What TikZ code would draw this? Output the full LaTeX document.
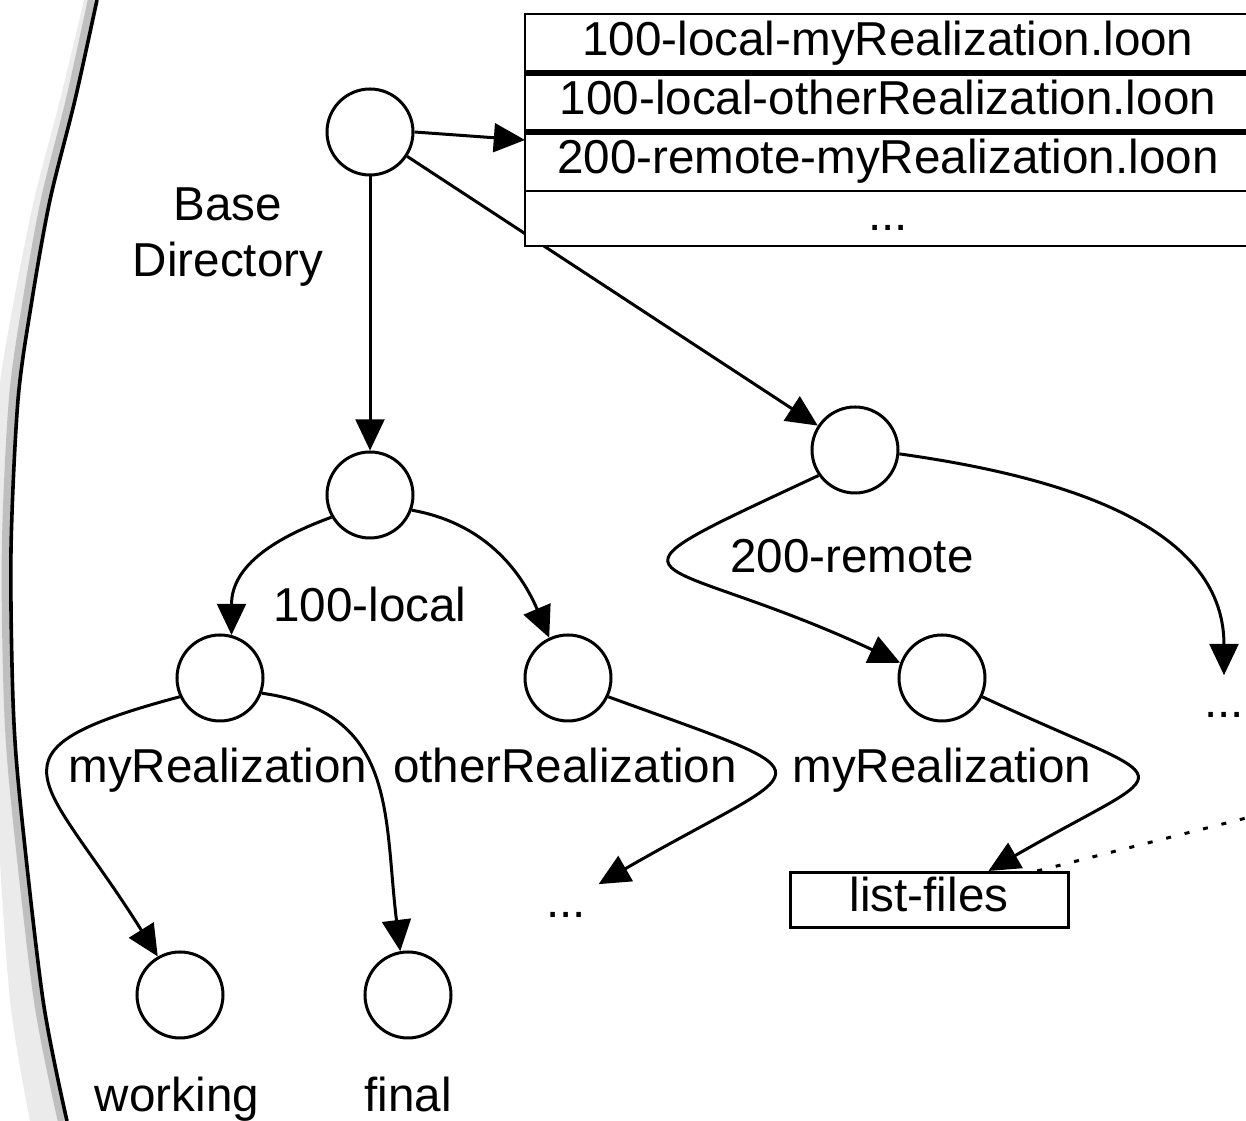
\documentclass[tikz,border=0pt]{standalone}
\usepackage{fontspec}
\setmainfont{Liberation Sans}
\usetikzlibrary{arrows.meta,positioning}

\begin{document}
\begin{tikzpicture}[
  x=0.25pt, y=-0.25pt,
  font=\fontsize{11.9}{13.8}\selectfont,
  dir/.style={circle,draw,line width=0.75pt,minimum size=21.5pt,inner sep=0pt},
  lbl/.style={inner sep=0pt,anchor=base},
  more/.style={inner sep=3pt,text height=0.75em,text depth=0pt},
  row/.style={draw,fill=white,line width=0.7pt,outer sep=0pt,minimum width=181.5pt,minimum height=14.75pt,inner sep=0pt,text height=8.9pt,text depth=2.9pt},
  file/.style={draw,line width=0.75pt,minimum width=69.5pt,minimum height=13.75pt,inner sep=0pt,text height=8.9pt,text depth=2.9pt},
  sep/.style={line width=1.6pt},
  ar/.style={-{Triangle[length=7.8pt,width=7.2pt]},line width=0.75pt},
  link/.style={line width=0.75pt,dash pattern=on 1.25pt off 3.5pt}
]
\useasboundingbox (0,0) rectangle (1246,1121);

\fill[gray!16] plot[smooth] coordinates {(97,0) (75,100) (50,200) (32,300) (18,400) (11,550) (13,700) (20,800) (43,1000) (67,1121)}
  -- plot[smooth] coordinates {(30,1121) (10,1000) (-4,800) (-10,700) (-10,550) (-2,400) (14,300) (34,200) (60,100) (84,0)} -- cycle;
\draw[gray!50,line width=2pt,xshift=-1.3pt] plot[smooth] coordinates {(97,0) (75,100) (50,200) (32,300) (18,400) (11,550) (13,700) (20,800) (43,1000) (67,1121)};
\draw[line width=0.9pt] plot[smooth] coordinates {(97,0) (75,100) (50,200) (32,300) (18,400) (11,550) (13,700) (20,800) (43,1000) (67,1121)};

\node[dir] (root) at (370,132) {};
\node[dir] (loc) at (370,495) {};
\node[dir] (rem) at (855,450) {};
\node[dir] (lmy) at (220,678) {};
\node[dir] (loth) at (568,678) {};
\node[dir] (rmy) at (942,678) {};
\node[dir] (work) at (180,995) {};
\node[dir] (fin) at (408,995) {};

\node[align=center,inner sep=0pt] (basel) at (228,237) {Base\\Directory};
\node[lbl] (locl) at (370,622) {100-local};
\node[lbl] (reml) at (852,573) {200-remote};
\node[lbl] (lmyl) at (218,783) {myRealization};
\node[lbl] (lothl) at (565,783) {otherRealization};
\node[lbl] (rmyl) at (942,783) {myRealization};
\node[lbl] (workl) at (177,1112) {working};
\node[lbl] (finl) at (408,1112) {final};
\node[more,anchor=base] (ldots) at (566,918) {...};
\node[more,anchor=base] (rdots) at (1224,718) {...};
\node[file] (lf) at (929,900) {list-files};
\coordinate (offr) at (1262,814);

\draw[ar] (root) -- (rem);

\node[row] (f1) at (888,43.5) {100-local-myRealization.loon};
\node[row,below=0pt of f1] (f2) {100-local-otherRealization.loon};
\node[row,below=0pt of f2] (f3) {200-remote-myRealization.loon};
\node[row,below=0pt of f3,minimum height=13.75pt] (f4) {...};
\draw[sep] (f1.south west) -- (f1.south east);
\draw[sep] (f2.south west) -- (f2.south east);

\draw[ar] (root.east) -- ([yshift=-2pt]f3.north west);
\draw[ar] (root) -- (loc);
\draw[ar] (loc.210) to[out=200,in=90,looseness=1.1] (lmy.75);
\draw[ar] (loc.-20) to[out=-10,in=113] (loth.115);
\draw[ar] (rem.215) to[out=205,in=155,looseness=3.4] (rmy.160);
\draw[ar] (rem.-5) to[out=-8,in=90] (rdots.north);
\draw[ar] (lmy.205) to[out=195,in=122,looseness=2.1] (work.120);
\draw[ar] (lmy.-20) to[out=-8,in=97,looseness=1.2] (fin.100);
\draw[ar] (loth.-25) to[out=-20,in=30,looseness=3.4] (ldots.30);
\draw[ar] (rmy.-25) to[out=-25,in=30,looseness=3.3] (lf.26);
\draw[link] (lf.15) -- (offr);
\end{tikzpicture}
\end{document}
